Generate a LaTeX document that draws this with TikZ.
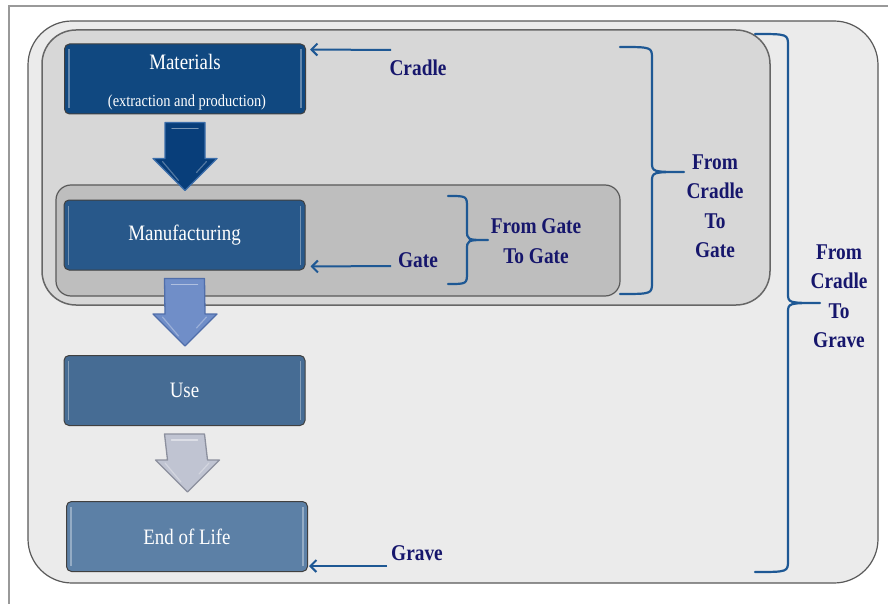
\documentclass[tikz,border=0pt]{standalone}
\usepackage{fontspec}
\setmainfont[FakeStretch=0.86]{Liberation Serif}
\usetikzlibrary{arrows.meta,calc}

\definecolor{navytext}{RGB}{22,22,108}
\definecolor{bracecol}{RGB}{30,88,148}
\definecolor{matfill}{RGB}{16,72,128}
\definecolor{manfill}{RGB}{40,88,138}
\definecolor{usefill}{RGB}{70,108,148}
\definecolor{endfill}{RGB}{92,128,166}
\definecolor{outerfill}{RGB}{235,235,235}
\definecolor{midfill}{RGB}{215,215,215}
\definecolor{innerfill}{RGB}{190,190,190}
\definecolor{arrowonefill}{RGB}{8,62,122}
\definecolor{arrowoneedge}{RGB}{60,110,170}
\definecolor{arrowtwofill}{RGB}{112,142,200}
\definecolor{arrowtwoedge}{RGB}{80,110,170}
\definecolor{arrowthreefill}{RGB}{192,196,210}
\definecolor{arrowthreeedge}{RGB}{140,144,158}

\tikzset{
  stage/.style={draw=black!75, line width=1pt, rounded corners=5pt,
    minimum width=241pt, minimum height=70pt, inner sep=0pt},
  stagetext/.style={text=white, font=\fontsize{22}{24}\selectfont, inner sep=0pt},
  tag/.style={text=navytext, font=\bfseries\fontsize{22.5}{29.5}\selectfont,
    align=center, inner sep=0pt},
  pointer/.style={draw=bracecol, line width=2pt,
    -{Straight Barb[length=6pt,width=12pt,line width=2pt]}},
  bracket/.style={draw=bracecol, line width=2.2pt, line cap=round, line join=round},
  bevel/.style={draw=white, opacity=0.35, line width=1.2pt},
}

% block arrow between two stage boxes: #1 upper box, #2 lower box, #3 fill, #4 edge
\newcommand\blockarr[4]{%
  \path[fill=#3, draw=#4, line width=1.3pt, line join=round]
    ($(#1.south)+(-20,8)$) -- ($(#1.south)+(20,8)$)
    -- ($(#2.north)+(20.5,-41)$) -- ($(#2.north)+(32.5,-41)$)
    -- ($(#2.north)+(0.5,-9)$)
    -- ($(#2.north)+(-31.5,-41)$) -- ($(#2.north)+(-19.5,-41)$) -- cycle;
  \draw[white, opacity=0.45, line width=1.5pt, line cap=round]
    ($(#1.south)+(-13,14)$) -- ($(#1.south)+(13,14)$);
  \draw[white, opacity=0.3, line width=1.2pt, line cap=round]
    ($(#2.north)+(-22,-38)$) -- ($(#2.north)+(-6,-19)$);
  \draw[white, opacity=0.3, line width=1.2pt, line cap=round]
    ($(#2.north)+(22,-38)$) -- ($(#2.north)+(12,-27)$);
}

% right curly bracket: #1 x of the free ends, #2 x of the spine, #3 x of the tip,
% #4 top y, #5 middle y, #6 bottom y
\newcommand\scopebracket[6]{%
  \draw[bracket] (#1,#4) .. controls (#2,#4) .. (#2,#4+12)
    -- (#2,#5-10) .. controls (#2,#5) .. (#3,#5)
    .. controls (#2,#5) .. (#2,#5+10)
    -- (#2,#6-12) .. controls (#2,#6) .. (#1,#6);
}

\newcommand\stagebevel[1]{%
  \draw[bevel] ($(#1.north west)+(5,6)$) -- ($(#1.south west)+(5,-6)$);
  \draw[bevel] ($(#1.north east)+(-5,6)$) -- ($(#1.south east)+(-5,-6)$);
}

\begin{document}
\begin{tikzpicture}[x=1pt,y=-1pt]
  \useasboundingbox (0,0) rectangle (888,604);
  \fill[white] (0,0) rectangle (888,604);
  % page frame
  \draw[black!40, line width=2pt] (9,604) -- (9,6) -- (888,6);

  % scope panels
  \draw[fill=outerfill, draw=black!65, line width=1.2pt, rounded corners=44pt]
    (28,21) rectangle (878,583);
  \draw[fill=midfill, draw=black!60, line width=1.5pt, rounded corners=34pt]
    (42,30) rectangle (770,305);
  \draw[fill=innerfill, draw=black!65, line width=1.2pt, rounded corners=15pt]
    (56,185) rectangle (620,296);

  % life-cycle stages
  \node[stage, fill=matfill] (mat) at (185,79) {};
  \node[stage, fill=manfill] (man) at (184.5,235) {};
  \node[stage, fill=usefill] (use) at (184.5,390.5) {};
  \node[stage, fill=endfill] (eol) at (187,536.5) {};
  \foreach \b in {mat,man,use,eol} {\stagebevel{\b}}

  \node[stagetext] (matname) at (185,62) {Materials};
  \node[stagetext, font=\fontsize{16.8}{19}\selectfont] (matsub) at (187,102)
    {(extraction and production)};
  \node[stagetext] (manname) at (man) {Manufacturing};
  \node[stagetext] (usename) at (use) {Use};
  \node[stagetext] (eolname) at (eol) {End of Life};

  % flow arrows
  \blockarr{mat}{man}{arrowonefill}{arrowoneedge}
  \blockarr{man}{use}{arrowtwofill}{arrowtwoedge}
  \blockarr{use}{eol}{arrowthreefill}{arrowthreeedge}

  % boundary labels
  \node[tag] (cradle) at (418,68) {Cradle};
  \node[tag] (gate) at (418,260) {Gate};
  \node[tag] (grave) at (417,553) {Grave};
  \coordinate (cradlestart) at (391,50);
  \coordinate (gatestart) at (391,266);
  \coordinate (gravestart) at (387,566);
  \draw[pointer] (cradlestart) -- ($(mat.north east)+(4,6)$);
  \draw[pointer] (gatestart) -- ($(man.south east)+(5,-4)$);
  \draw[pointer] (gravestart) -- ($(eol.south east)+(1,-6)$);

  % scope brackets
  \scopebracket{448}{467}{488}{196}{240}{284}
  \scopebracket{620}{652}{684}{47}{172}{294}
  \scopebracket{755}{788}{820}{34}{303}{572}

  \node[tag] (g2g) at (536,241) {From Gate\\To Gate};
  \node[tag] (c2g) at (715,206) {From\\Cradle\\To\\Gate};
  \node[tag] (c2gr) at (839,296) {From\\Cradle\\To\\Grave};
\end{tikzpicture}
\end{document}
